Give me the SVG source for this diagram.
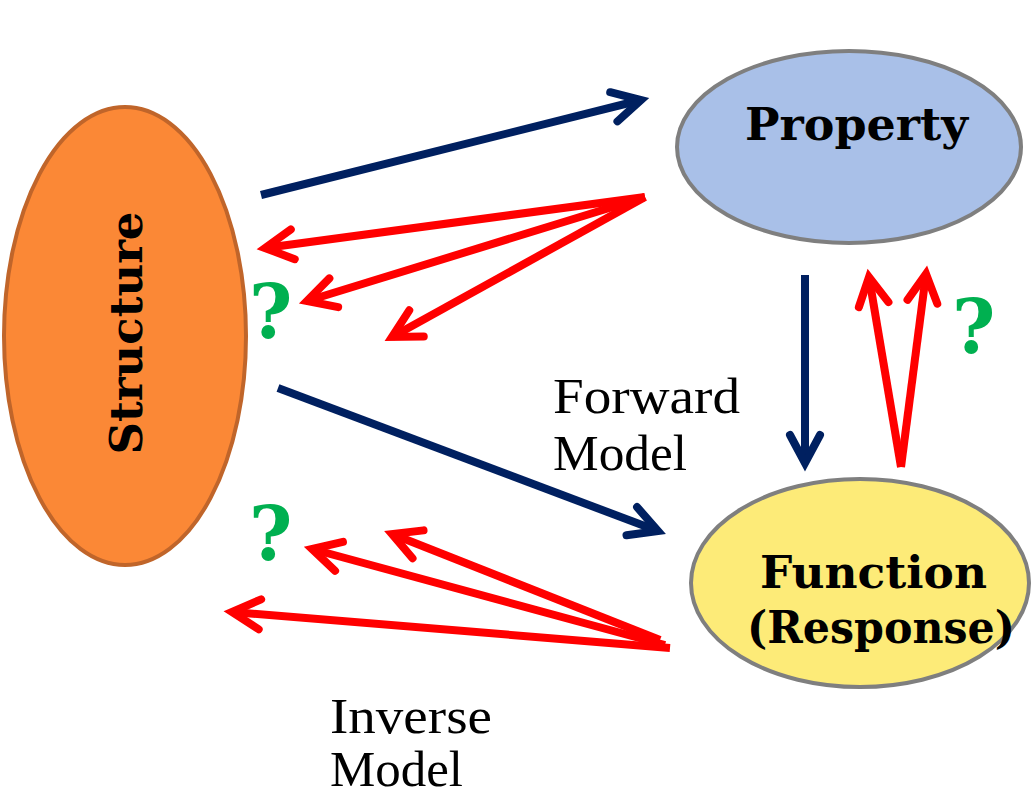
<svg xmlns="http://www.w3.org/2000/svg" width="1032" height="796" viewBox="0 0 1032 796">
<style>
.node-b{font-family:"DejaVu Serif","Liberation Serif",serif;font-weight:bold;font-size:44px;fill:#000}
.lbl{font-family:"Liberation Serif","Times New Roman",serif;font-size:50px;fill:#000}
.q{font-family:"DejaVu Serif","Liberation Serif",serif;font-weight:bold;font-size:74px;fill:#00B050}
.blue{stroke:#002060;stroke-width:8;fill:none}
.red{stroke:#FF0000;stroke-width:8;fill:none}
</style>
<defs>
<marker id="ab" markerUnits="userSpaceOnUse" markerWidth="60" markerHeight="60" viewBox="-40 -30 60 60" refX="0" refY="0" orient="auto" overflow="visible">
<path d="M-28,-15 L0,0 L-28,15" fill="none" stroke="#002060" stroke-width="8" stroke-linecap="round" stroke-linejoin="miter"/>
</marker>
<marker id="ar" markerUnits="userSpaceOnUse" markerWidth="60" markerHeight="60" viewBox="-40 -30 60 60" refX="0" refY="0" orient="auto" overflow="visible">
<path d="M-28,-15 L0,0 L-28,15" fill="none" stroke="#FF0000" stroke-width="8" stroke-linecap="round" stroke-linejoin="miter"/>
</marker>
</defs>
<rect width="1032" height="796" fill="#fff"/>
<g id="structure">
<ellipse cx="125" cy="336" rx="121" ry="229" fill="#FB8836" stroke="#C0652A" stroke-width="4"/>
<text class="node-b" transform="translate(142,333) rotate(-90)" text-anchor="middle" textLength="243" lengthAdjust="spacingAndGlyphs">Structure</text>
</g>
<g id="property">
<ellipse cx="849" cy="147" rx="172" ry="96" fill="#A9C0E8" stroke="#7F7F7F" stroke-width="4"/>
<text class="node-b" x="745" y="140" textLength="223" lengthAdjust="spacingAndGlyphs">Property</text>
</g>
<g id="function">
<ellipse cx="860" cy="583" rx="169" ry="104" fill="#FDEB78" stroke="#7F7F7F" stroke-width="4"/>
<text class="node-b" x="760" y="588" textLength="227" lengthAdjust="spacingAndGlyphs">Function</text>
<text class="node-b" x="747" y="643" textLength="268" lengthAdjust="spacingAndGlyphs">(Response)</text>
</g>
<g id="connectors">
<line class="blue" x1="261" y1="195" x2="641" y2="100" marker-end="url(#ab)"/>
<line class="blue" x1="278" y1="388" x2="658" y2="531" marker-end="url(#ab)"/>
<line class="blue" x1="805" y1="275" x2="805" y2="463" marker-end="url(#ab)"/>
<line class="red" x1="645" y1="197" x2="265" y2="248" marker-end="url(#ar)"/>
<line class="red" x1="645" y1="197" x2="307" y2="301" marker-end="url(#ar)"/>
<line class="red" x1="645" y1="197" x2="392" y2="337" marker-end="url(#ar)"/>
<line class="red" x1="670" y1="648" x2="232" y2="612" marker-end="url(#ar)"/>
<line class="red" x1="665" y1="645" x2="312" y2="549" marker-end="url(#ar)"/>
<line class="red" x1="660" y1="640" x2="392" y2="534" marker-end="url(#ar)"/>
<line class="red" x1="901" y1="467" x2="869" y2="277" marker-end="url(#ar)"/>
<line class="red" x1="901" y1="467" x2="926" y2="274" marker-end="url(#ar)"/>
</g>
<g id="labels">
<text class="lbl" x="553" y="413" textLength="187" lengthAdjust="spacingAndGlyphs">Forward</text>
<text class="lbl" x="553" y="470" textLength="134" lengthAdjust="spacingAndGlyphs">Model</text>
<text class="lbl" x="330" y="733" textLength="162" lengthAdjust="spacingAndGlyphs">Inverse</text>
<text class="lbl" x="330" y="786" textLength="133" lengthAdjust="spacingAndGlyphs">Model</text>
<text class="q" x="249" y="338">?</text>
<text class="q" x="249" y="560">?</text>
<text class="q" x="952" y="353">?</text>
</g>
</svg>
